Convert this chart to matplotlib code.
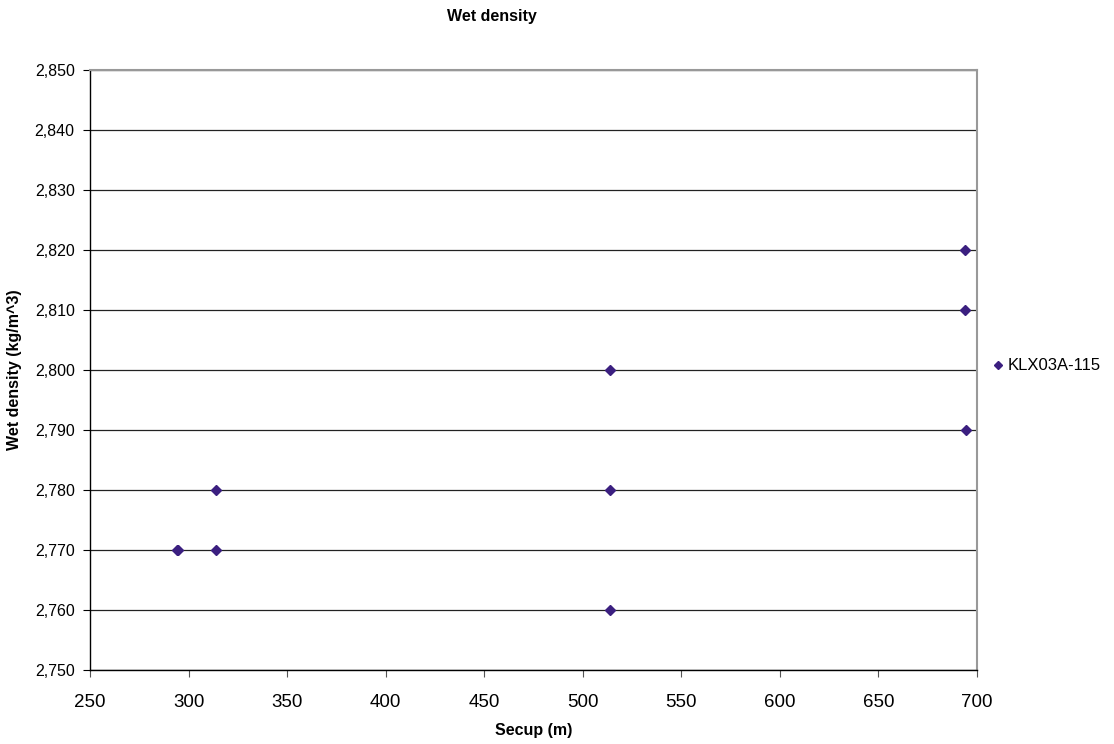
import matplotlib
matplotlib.use("Agg")
import matplotlib.pyplot as plt
from matplotlib.ticker import FuncFormatter, MultipleLocator

plt.rcParams['font.family'] = ['Liberation Sans', 'DejaVu Sans']

# Sample measurements: section upper depth vs wet density
secup = [294.3, 294.8, 313.7, 313.7, 514.0, 514.0, 514.0, 694.0, 694.0, 694.6]
density = [2770, 2770, 2780, 2770, 2800, 2780, 2760, 2820, 2810, 2790]
series_name = "KLX03A-115"

fig = plt.figure(figsize=(11.14, 7.44), dpi=100)
ax = fig.add_axes([90/1114, 74/744, 887/1114, 600/744])

ax.plot(secup, density, linestyle='none', marker='D', markersize=5,
        color='#3b1f80', label=series_name, zorder=3)

ax.set_xlim(250, 700)
ax.set_ylim(2750, 2850)
ax.xaxis.set_major_locator(MultipleLocator(50))
ax.yaxis.set_major_locator(MultipleLocator(10))
ax.yaxis.set_major_formatter(FuncFormatter(lambda v, p: f"{int(round(v)):,}"))

ax.grid(axis='y', color='#222222', linewidth=0.9)
ax.set_axisbelow(True)

for side in ('top', 'right'):
    ax.spines[side].set_color('#999999')
    ax.spines[side].set_linewidth(1.5)
for side in ('left', 'bottom'):
    ax.spines[side].set_color('black')
    ax.spines[side].set_linewidth(1.0)

ax.tick_params(axis='x', labelsize=13.5, direction='out', length=5,
               color='#555555', pad=12)
ax.tick_params(axis='y', labelsize=11.5, direction='out', length=5, pad=6)

ax.set_xlabel('Secup (m)', fontsize=11.5, fontweight='bold', labelpad=9)
ax.set_ylabel('Wet density (kg/m^3)', fontsize=11.5, fontweight='bold', labelpad=9)
fig.text(492/1114, 1 - 17/744, 'Wet density', ha='center', va='center',
         fontsize=11.5, fontweight='bold')

fig.legend(loc='center left', bbox_to_anchor=(993/1114, 1 - 366/744),
           frameon=False, fontsize=12, handlelength=0.6, handletextpad=0.3,
           borderaxespad=0, borderpad=0, markerscale=0.9)

fig.savefig('out.png', dpi=100, facecolor='white')
